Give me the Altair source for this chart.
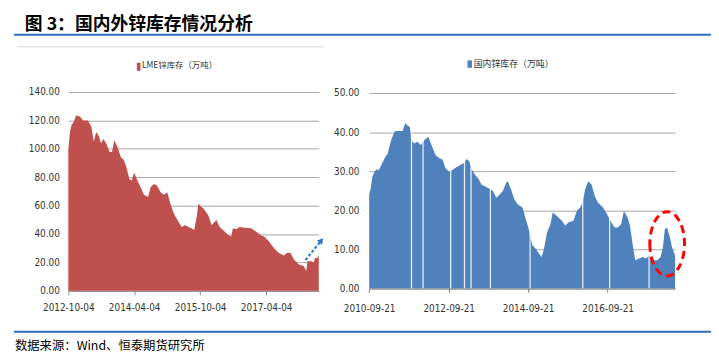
import altair as alt
import pandas as pd

# ---------------- data ----------------
lme_dates = [
    "2012-10-04", "2012-10-18", "2012-10-31", "2012-11-20", "2012-12-06", "2013-01-08",
    "2013-02-05", "2013-03-16", "2013-04-13", "2013-05-04", "2013-05-23", "2013-06-15",
    "2013-07-03", "2013-07-22", "2013-08-14", "2013-09-11", "2013-10-02", "2013-10-21",
    "2013-11-18", "2013-12-15", "2014-01-04", "2014-01-26", "2014-02-23", "2014-03-14",
    "2014-04-04", "2014-05-01", "2014-05-28", "2014-06-24", "2014-07-29", "2014-08-18",
    "2014-09-15", "2014-10-12", "2014-11-09", "2014-12-06", "2015-01-03", "2015-01-30",
    "2015-02-27", "2015-04-07", "2015-05-04", "2015-06-01", "2015-06-28", "2015-07-25",
    "2015-08-16", "2015-09-05", "2015-09-19", "2015-10-16", "2015-11-12", "2015-12-10",
    "2016-01-06", "2016-02-03", "2016-02-16", "2016-03-14", "2016-04-24", "2016-05-21",
    "2016-06-18", "2016-07-02", "2016-07-29", "2016-08-26", "2016-10-06", "2016-11-30",
    "2017-01-10", "2017-02-21", "2017-03-18", "2017-04-28", "2017-06-08", "2017-07-19",
    "2017-08-30", "2017-09-21", "2017-10-24", "2017-11-20", "2017-12-31", "2018-02-10",
    "2018-03-03", "2018-03-14", "2018-04-19", "2018-05-02", "2018-05-16", "2018-06-04",
    "2018-06-15",
]
lme_values = [
    99.5, 112.0, 117.0, 119.0, 123.4, 122.7,
    120.0, 120.0, 115.7, 105.0, 111.8, 108.8,
    104.0, 107.0, 104.0, 98.0, 97.7, 106.0,
    101.0, 93.8, 92.6, 88.0, 78.7, 77.5,
    83.3, 77.5, 73.0, 67.6, 66.0, 73.0,
    75.2, 74.0, 69.4, 67.6, 69.4, 61.3,
    54.4, 48.6, 45.0, 46.3, 45.0, 44.0,
    42.8, 52.0, 61.3, 59.0, 56.7, 53.2,
    46.3, 48.6, 49.8, 45.0, 41.7, 39.4,
    38.2, 44.0, 43.3, 45.0, 44.4, 44.0,
    41.7, 38.9, 38.2, 34.7, 30.0, 26.6,
    24.8, 26.6, 26.6, 22.0, 18.5, 17.4,
    13.9, 20.8, 20.8, 19.7, 23.0, 23.0,
    24.8,
]

cn_dates = [
    "2010-09-21", "2010-10-03", "2010-10-21", "2010-11-11", "2010-11-26", "2010-12-17",
    "2011-01-11", "2011-02-10", "2011-03-11", "2011-04-10", "2011-05-10", "2011-05-25",
    "2011-07-25", "2011-08-19", "2011-09-09", "2011-09-30", "2011-10-15", "2011-11-08",
    "2011-12-08", "2012-01-08", "2012-02-08", "2012-03-17", "2012-04-16", "2012-05-22",
    "2012-06-28", "2012-07-28", "2012-08-21", "2012-09-21", "2012-10-21", "2012-11-20",
    "2013-01-05", "2013-02-04", "2013-03-05", "2013-03-29", "2013-04-14", "2013-05-20",
    "2013-06-19", "2013-07-19", "2013-08-19", "2013-09-18", "2013-11-02", "2013-12-02",
    "2014-01-02", "2014-02-01", "2014-03-03", "2014-03-18", "2014-04-17", "2014-05-17",
    "2014-06-16", "2014-07-31", "2014-08-31", "2014-09-30", "2014-10-30", "2014-11-30",
    "2014-12-30", "2015-01-23", "2015-02-14", "2015-03-14", "2015-04-14", "2015-05-05",
    "2015-06-13", "2015-07-28", "2015-08-28", "2015-09-28", "2015-11-12", "2015-12-12",
    "2016-01-12", "2016-02-05", "2016-02-26", "2016-03-26", "2016-04-26", "2016-05-26",
    "2016-06-25", "2016-08-10", "2016-09-24", "2016-10-24", "2016-11-24", "2016-12-24",
    "2017-01-23", "2017-02-17", "2017-03-23", "2017-04-14", "2017-05-08", "2017-06-01",
    "2017-07-07", "2017-08-07", "2017-09-07", "2017-10-07", "2017-11-06", "2017-12-21",
    "2018-01-21", "2018-02-11", "2018-03-01", "2018-03-21", "2018-04-20", "2018-05-05",
    "2018-06-03",
]
cn_values = [
    24.0, 25.3, 28.7, 29.9, 30.5, 30.2,
    31.6, 33.3, 34.6, 37.9, 40.0, 40.3,
    40.3, 42.3, 41.7, 41.3, 37.9, 37.1,
    37.5, 36.7, 37.9, 38.8, 36.7, 34.1,
    33.3, 32.9, 30.8, 29.9, 30.2, 30.8,
    31.6, 32.0, 33.1, 32.5, 30.8, 29.1,
    28.2, 26.6, 26.1, 25.7, 24.9, 23.2,
    24.0, 24.9, 27.0, 27.4, 25.3, 22.8,
    21.5, 20.7, 17.7, 14.8, 11.0, 10.1,
    8.9, 8.0, 10.1, 14.3, 16.4, 19.4,
    18.5, 17.3, 16.0, 16.9, 17.3, 19.8,
    20.7, 21.9, 25.3, 27.4, 26.6, 23.6,
    21.9, 20.7, 18.5, 16.9, 15.6, 15.6,
    16.4, 19.8, 18.1, 16.0, 11.4, 7.2,
    7.6, 8.0, 7.6, 8.4, 7.2, 7.2,
    8.0, 10.5, 15.2, 15.6, 12.6, 10.5,
    8.4,
]

# holiday gaps in the domestic series (white slits)
gap_dates = ["2011-10-15", "2012-01-29", "2012-10-09", "2013-02-13", "2013-04-14",
             "2013-10-09", "2014-10-09", "2016-02-05", "2016-10-09", "2017-10-07"]
gap_tops = [41.0, 38.0, 30.5, 33.0, 31.0, 26.0, 14.5, 22.5, 18.5, 9.0]

left_x_ticks = ["2012-10-04", "2014-04-04", "2015-10-04", "2017-04-04"]
right_x_ticks = ["2010-09-21", "2012-09-21", "2014-09-21", "2016-09-21"]
left_y_ticks = [0, 20, 40, 60, 80, 100, 120, 140]
right_y_ticks = [0, 10, 20, 30, 40, 50]
left_x_domain = ["2012-10-04", "2018-06-15"]
right_x_domain = ["2010-09-21", "2018-06-03"]

arrow_dates = ["2018-02-25", "2018-07-06"]
arrow_values = [21.6, 35.5]
ellipse_dates = ["2018-03-22"]
ellipse_values = [11.4]

title_text = "图 3：国内外锌库存情况分析"
source_text = "数据来源：Wind、恒泰期货研究所"
legend_left = "LME锌库存（万吨）"
legend_right = "国内锌库存（万吨）"

# ---------------- helpers ----------------
AXFONT = "Liberation Sans Narrow, DejaVu Sans Condensed, Liberation Sans, Arial"
CJK = "Noto Sans CJK SC"
RED = "#C0504D"
BLUE = "#4F81BD"
LINEBLUE = "#2F6EBA"


def dt(s):
    y, m, d = (int(v) for v in s.split("-"))
    return alt.DateTime(year=y, month=m, date=d, utc=True)


def lx(axis=None):
    return alt.X("date:T", title=None,
                 scale=alt.Scale(type="utc", domain=[dt(v) for v in left_x_domain], range=[61, 314.3]),
                 axis=axis)


def ly(field="value:Q", axis=None):
    return alt.Y(field, title=None,
                 scale=alt.Scale(domain=[0, 140], range=[284, 83], nice=False, zero=False),
                 axis=axis)


def rx(axis=None):
    return alt.X("date:T", title=None,
                 scale=alt.Scale(type="utc", domain=[dt(v) for v in right_x_domain], range=[365.3, 674.7]),
                 axis=axis)


def ry(field="value:Q", axis=None):
    return alt.Y(field, title=None,
                 scale=alt.Scale(domain=[0, 50], range=[281.5, 84], nice=False, zero=False),
                 axis=axis)


lme_df = pd.DataFrame({"date": lme_dates, "value": lme_values})
cn_df = pd.DataFrame({"date": cn_dates, "value": cn_values})
gap_df = pd.DataFrame({"date": gap_dates, "value": gap_tops})
arrow_df = pd.DataFrame({"date": arrow_dates, "value": arrow_values})
arrow_head_df = pd.DataFrame({"date": arrow_dates[-1:], "value": arrow_values[-1:]})
ellipse_df = pd.DataFrame({"date": ellipse_dates, "value": ellipse_values})
one = pd.DataFrame({"k": [0]})

# ---------------- left panel ----------------
left_area = alt.Chart(lme_df).mark_area(color=RED, opacity=1).encode(
    x=lx(alt.Axis(orient="bottom", offset=-66, values=[dt(v) for v in left_x_ticks],
                  format="%Y-%m-%d", grid=False, domain=True, domainColor="#868686",
                  ticks=True, tickSize=4, tickColor="#868686", labelPadding=8,
                  labelFlush=False, labelOverlap=False)),
    y=ly(axis=alt.Axis(orient="left", offset=-61, values=left_y_ticks, format=".2f",
                       domain=False, ticks=False, tickSize=0, labelPadding=9,
                       grid=True, gridColor="#A6A6A6", gridWidth=1)),
)

arrow_line = alt.Chart(arrow_df).mark_line(color="#2874C8", strokeWidth=2, strokeDash=[3, 2]).encode(
    x=lx(), y=ly())
arrow_head = alt.Chart(arrow_head_df).mark_point(shape="triangle-up", angle=39, filled=True,
                                                 size=45, color="#2874C8", opacity=1).encode(
    x=lx(), y=ly())

# ---------------- right panel ----------------
right_area = alt.Chart(cn_df).mark_area(color=BLUE, opacity=1).encode(
    x=rx(alt.Axis(orient="bottom", offset=-68.5, values=[dt(v) for v in right_x_ticks],
                  format="%Y-%m-%d", grid=False, domain=True, domainColor="#868686",
                  ticks=True, tickSize=4, tickColor="#868686", labelPadding=11.5,
                  labelFlush=False, labelOverlap=False)),
    y=ry(axis=alt.Axis(orient="left", offset=-365.3, values=right_y_ticks, format=".2f",
                       domain=False, ticks=False, tickSize=0, labelPadding=10.3,
                       grid=True, gridColor="#A6A6A6", gridWidth=1)),
)

gaps = alt.Chart(gap_df).mark_rule(color="white", strokeWidth=1.3, opacity=0.85).encode(
    x=rx(), y=ry(), y2=alt.Y2(datum=0))

ellipse = alt.Chart(ellipse_df).mark_point(
    shape="M -0.54 0 A 0.54 1 0 1 0 0.54 0 A 0.54 1 0 1 0 -0.54 0 Z",
    size=4225, filled=False, stroke="#FF0000", strokeWidth=3, strokeDash=[8, 5], opacity=1,
).encode(x=rx(), y=ry())

# ---------------- decorations ----------------
def text_layer(label, x, y, size, weight="normal", font=CJK, color="#000000"):
    return alt.Chart(pd.DataFrame({"label": [label]})).mark_text(
        align="left", baseline="alphabetic", font=font, fontSize=size,
        fontWeight=weight, color=color,
    ).encode(text="label:N", x=alt.value(x), y=alt.value(y))


def hline(x1, x2, y, color, width):
    return alt.Chart(one).mark_rule(color=color, strokeWidth=width).encode(
        x=alt.value(x1), x2=alt.value(x2), y=alt.value(y))


def box(x1, x2, y1, y2, color):
    return alt.Chart(one).mark_rect(color=color).encode(
        x=alt.value(x1), x2=alt.value(x2), y=alt.value(y1), y2=alt.value(y2))


title = text_layer(title_text, 17, 20, 18, weight="bold")
title_rule = hline(6, 711, 25, LINEBLUE, 2)
frame_rule = hline(9, 320, 37.3, "#D9D9D9", 1)
footer_rule = hline(6, 711, 325.5, LINEBLUE, 2)
footer = text_layer(source_text, 7, 344, 12.5)
leg_l_box = box(130.3, 134, 53.5, 61.5, RED)
leg_l_txt = text_layer(legend_left, 135.5, 58.5, 8.5, color="#333333")
leg_r_box = box(464.7, 469.3, 51, 58.5, BLUE)
leg_r_txt = text_layer(legend_right, 471, 58, 9, color="#333333")

chart = alt.layer(
    left_area, arrow_line, arrow_head,
    right_area, gaps, ellipse,
    title, title_rule, frame_rule, footer_rule, footer,
    leg_l_box, leg_l_txt, leg_r_box, leg_r_txt,
).resolve_scale(x="independent", y="independent").properties(
    width=711, height=350, autosize=alt.AutoSizeParams(type="none"), padding=0,
).configure_view(stroke=None).configure_axis(
    labelFont=AXFONT, labelFontSize=10, labelColor="#333333",
)

chart.save("out.html", embed_options={"renderer": "svg", "actions": False})
